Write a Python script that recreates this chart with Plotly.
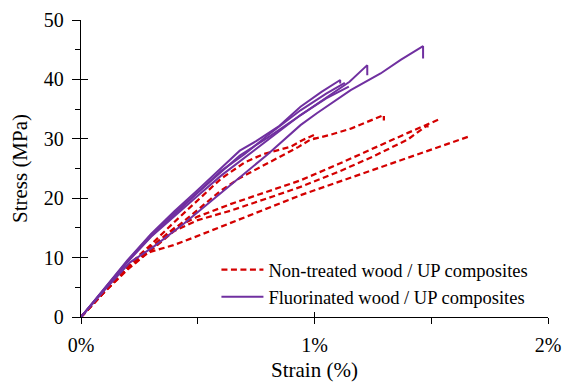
import plotly.graph_objects as go

# ---- data (strain in %, stress in MPa) ----
r1_strain = [0, 0.1, 0.2, 0.3, 0.4, 0.5, 0.6, 0.68, 0.81, 0.93, 0.98, 1.07, 1.155, 1.226, 1.297, 1.297]
r1_stress = [0, 4.2, 8.2, 11.3, 14.8, 18.0, 21.3, 23.4, 26.1, 28.6, 29.8, 30.7, 31.7, 32.9, 34.0, 33.1]

r2_strain = [0, 0.1, 0.2, 0.3, 0.4, 0.5, 0.64, 0.8, 0.94, 1.1, 1.25, 1.4, 1.484, 1.484]
r2_stress = [0, 4.2, 8.0, 11.3, 14.5, 16.3, 17.9, 20.0, 21.9, 24.4, 27.0, 29.9, 32.3, 31.6]

r3_strain = [0, 0.1, 0.2, 0.3, 0.4, 0.5, 0.64, 0.8, 0.94, 1.1, 1.25, 1.4, 1.541]
r3_stress = [0, 4.2, 8.2, 11.8, 15.0, 16.9, 19.0, 21.2, 23.0, 25.7, 28.4, 31.0, 33.4]

r4_strain = [0, 0.1, 0.2, 0.253, 0.3, 0.396, 0.51, 0.653, 0.8, 0.94, 1.1, 1.312, 1.5, 1.662]
r4_stress = [0, 4.3, 8.3, 10.1, 11.0, 12.1, 13.8, 16.0, 18.3, 20.5, 22.7, 25.6, 28.2, 30.4]

r5_strain = [0, 0.1, 0.2, 0.3, 0.4, 0.5, 0.6, 0.7, 0.78, 0.9, 0.95, 1.0, 1.0]
r5_stress = [0, 4.4, 8.6, 12.2, 16.0, 19.6, 23.3, 26.0, 27.4, 28.7, 29.8, 30.7, 30.0]

p1_strain = [0, 0.1, 0.21, 0.31, 0.44, 0.554, 0.64, 0.8, 0.94, 1.01, 1.155, 1.283, 1.369, 1.465, 1.465]
p1_stress = [0, 4.5, 9.2, 11.8, 15.7, 19.4, 22.2, 27.4, 32.3, 34.3, 38.2, 41.0, 43.3, 45.6, 43.5]

p2_strain = [0, 0.1, 0.2, 0.3, 0.4, 0.5, 0.6, 0.68, 0.8, 0.94, 1.05, 1.15, 1.226, 1.226]
p2_stress = [0, 4.7, 9.4, 13.6, 17.3, 20.9, 24.4, 27.2, 30.2, 34.0, 36.9, 39.6, 42.4, 40.7]

p3_strain = [0, 0.1, 0.2, 0.3, 0.4, 0.5, 0.6, 0.68, 0.75, 0.85, 0.94, 1.03, 1.11, 1.11]
p3_stress = [0, 4.8, 9.6, 14.0, 17.8, 21.4, 25.0, 28.0, 29.6, 32.2, 35.4, 37.9, 39.9, 39.3]

p4_strain = [0, 0.1, 0.2, 0.3, 0.4, 0.5, 0.6, 0.7, 0.8, 0.94, 1.05, 1.147]
p4_stress = [0, 4.6, 9.3, 13.5, 17.0, 20.4, 23.8, 26.8, 29.8, 34.0, 36.8, 38.8]

p5_strain = [0, 0.1, 0.2, 0.3, 0.4, 0.5, 0.6, 0.7, 0.8, 0.94, 1.05, 1.13]
p5_stress = [0, 4.7, 9.5, 13.8, 17.5, 21.0, 24.6, 27.4, 30.6, 34.8, 37.6, 39.4]

red_series = [(r1_strain, r1_stress), (r2_strain, r2_stress), (r3_strain, r3_stress),
              (r4_strain, r4_stress), (r5_strain, r5_stress)]
purple_series = [(p1_strain, p1_stress), (p2_strain, p2_stress), (p3_strain, p3_stress),
                 (p4_strain, p4_stress), (p5_strain, p5_stress)]

red_name = "Non-treated wood / UP composites"
purple_name = "Fluorinated wood / UP composites"

x_tickvals = [0, 1, 2]
x_ticktext = ["0%", "1%", "2%"]
y_tickvals = [0, 10, 20, 30, 40, 50]

RED = "#D40000"
PURPLE = "#7030A0"
FONT = "Liberation Serif"

fig = go.Figure()
for i, (xs, ys) in enumerate(red_series):
    fig.add_trace(go.Scatter(x=xs, y=ys, mode="lines", name=red_name,
                             legendgroup="red", showlegend=(i == 0),
                             line=dict(color=RED, width=2.25, dash="6px,3.5px")))
for i, (xs, ys) in enumerate(purple_series):
    fig.add_trace(go.Scatter(x=xs, y=ys, mode="lines", name=purple_name,
                             legendgroup="purple", showlegend=(i == 0),
                             line=dict(color=PURPLE, width=2)))
# invisible trace on overlay axes (used for inner halves of major ticks)
fig.add_trace(go.Scatter(x=[None], y=[None], xaxis="x2", yaxis="y2",
                         showlegend=False, hoverinfo="skip"))

tick_font = dict(family=FONT, size=20, color="black")
title_font = dict(family=FONT, size=21, color="black")

fig.update_layout(
    width=564, height=382,
    margin=dict(l=81, r=16, t=20, b=65, autoexpand=False),
    paper_bgcolor="white", plot_bgcolor="white",
    font=dict(family=FONT, size=18, color="black"),
    showlegend=True,
    legend=dict(x=0.29, y=0.222, xanchor="left", yanchor="top",
                bgcolor="rgba(0,0,0,0)", font=dict(family=FONT, size=18.5, color="black"),
                itemwidth=42, tracegroupgap=0),
    xaxis=dict(range=[0, 2], tickvals=x_tickvals, ticktext=x_ticktext, automargin=False,
               showgrid=False, zeroline=False, showline=True, linecolor="black", linewidth=1.3,
               ticks="outside", ticklen=6, tickwidth=1.3, tickcolor="black",
               tickfont=tick_font, ticklabelstandoff=4,
               minor=dict(dtick=0.5, tick0=0, ticks="outside", ticklen=6, tickwidth=1.3, tickcolor="black", showgrid=False),
               title=dict(text="Strain (%)", font=title_font, standoff=14)),
    yaxis=dict(range=[0, 50], tickvals=y_tickvals, automargin=False,
               showgrid=False, zeroline=False, showline=True, linecolor="black", linewidth=1.3,
               ticks="outside", ticklen=8, tickwidth=1.3, tickcolor="black",
               tickfont=tick_font, ticklabelstandoff=4,
               minor=dict(dtick=5, tick0=0, ticks="outside", ticklen=5, tickwidth=1.3, tickcolor="black", showgrid=False),
               title=dict(text="Stress (MPa)", font=title_font, standoff=10)),
    xaxis2=dict(overlaying="x", anchor="y", side="bottom", range=[0, 2], tickvals=x_tickvals,
                showticklabels=False, showgrid=False, zeroline=False, showline=False, automargin=False,
                ticks="inside", ticklen=5, tickwidth=1.3, tickcolor="black"),
    yaxis2=dict(overlaying="y", anchor="x", side="left", range=[0, 50], tickvals=y_tickvals,
                showticklabels=False, showgrid=False, zeroline=False, showline=False, automargin=False,
                ticks="inside", ticklen=7, tickwidth=1.3, tickcolor="black"),
)

fig.write_html("out.html")
